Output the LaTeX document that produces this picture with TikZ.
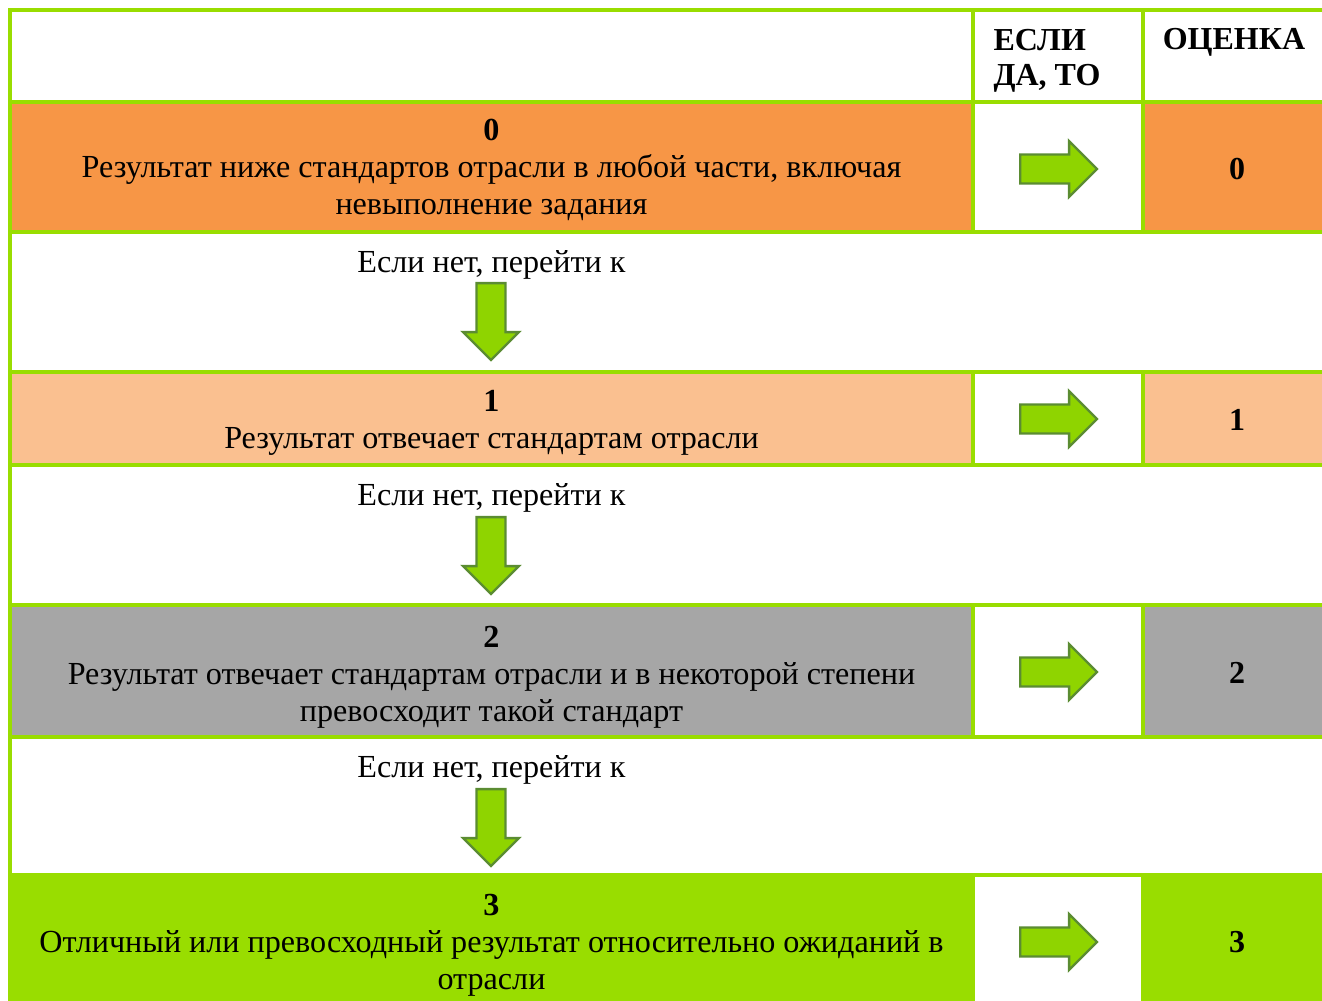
\documentclass[tikz,border=0pt]{standalone}
\usepackage{fontspec}
\setmainfont{Liberation Serif}
\usepackage{tikz}
\usetikzlibrary{shapes.arrows}

\definecolor{tablegreen}{HTML}{99DD00}
\definecolor{rowzero}{HTML}{F79646}
\definecolor{rowone}{HTML}{FAC090}
\definecolor{rowtwo}{HTML}{A6A6A6}
\definecolor{rowthree}{HTML}{99DD00}
\definecolor{arrowfill}{HTML}{8FD400}
\definecolor{arrowline}{HTML}{5B8C32}

\tikzset{
	tableline/.style={draw=tablegreen, line width=1.5pt, line cap=rect},
	bodytext/.style={inner sep=0pt, align=center, font=\fontsize{12.05}{13.9}\selectfont},
	headtext/.style={inner sep=0pt, font=\fontsize{12}{13.1}\selectfont\bfseries},
	blockarrow/.style={
		single arrow,
		draw=arrowline,
		fill=arrowfill,
		line width=0.9pt,
		inner xsep=0pt,
		inner ysep=5pt,
		single arrow head extend=5pt,
		single arrow tip angle=90,
		minimum height=28.8pt,
		anchor=tail
	},
	yesarrow/.style={blockarrow},
	noarrow/.style={blockarrow, rotate=-90}
}

\begin{document}
\begin{tikzpicture}[x=0.375pt, y=-0.375pt]

\useasboundingbox (0,0) rectangle (1322,1001);

% cell fills
\fill[rowzero] (10,102) rectangle (973,232);
\fill[rowzero] (1143,102) rectangle (1322,232);
\fill[rowone] (10,372) rectangle (973,465);
\fill[rowone] (1143,372) rectangle (1322,465);
\fill[rowtwo] (10,605) rectangle (973,737);
\fill[rowtwo] (1143,605) rectangle (1322,737);
\fill[rowthree] (10,875) rectangle (973,1001);
\fill[rowthree] (1143,875) rectangle (1322,1001);

% ---

\draw[tableline]
	(10,10) -- (1322,10)
	(10,102) -- (1322,102)
	(10,232) -- (1322,232)
	(10,372) -- (1322,372)
	(10,465) -- (1322,465)
	(10,605) -- (1322,605)
	(10,737) -- (1322,737)
	(10,875) -- (1322,875)
	(10,10) -- (10,1001);

\draw[tableline]
	(973,10) -- (973,232)
	(1143,10) -- (1143,232)
	(973,372) -- (973,465)
	(1143,372) -- (1143,465)
	(973,605) -- (973,737)
	(1143,605) -- (1143,737)
	(973,875) -- (973,1001)
	(1143,875) -- (1143,1001);

% ---

\node[
	headtext,
	align=left,
	anchor=north west
] (ifyes) at (993,29) {ЕСЛИ\\ДА, ТО};

\node[
	headtext,
	anchor=base
] (score) at (1234,50) {ОЦЕНКА};

% ---

\node[bodytext] (row0) at (491.5,170)
	{\textbf{0}\\Результат ниже стандартов отрасли в любой части, включая\\невыполнение задания};

\node[bodytext] (row1) at (491.5,423)
	{\textbf{1}\\Результат отвечает стандартам отрасли};

\node[bodytext] (row2) at (491.5,677)
	{\textbf{2}\\Результат отвечает стандартам отрасли и в некоторой степени\\превосходит такой стандарт};

\node[bodytext] (row3) at (491.5,945)
	{\textbf{3}\\Отличный или превосходный результат относительно ожиданий в\\отрасли};

% ---

\node[yesarrow] (yes0) at (1019,169) {};
\node[yesarrow] (yes1) at (1019,419) {};
\node[yesarrow] (yes2) at (1019,672) {};
\node[yesarrow] (yes3) at (1019,942) {};

\node[bodytext, font=\fontsize{12}{13.9}\selectfont\bfseries] (score0) at (1237,169) {0};
\node[bodytext, font=\fontsize{12}{13.9}\selectfont\bfseries] (score1) at (1237,420) {1};
\node[bodytext, font=\fontsize{12}{13.9}\selectfont\bfseries] (score2) at (1237,673) {2};
\node[bodytext, font=\fontsize{12}{13.9}\selectfont\bfseries] (score3) at (1237,942) {3};

% ---

\node[bodytext, anchor=base] (ifnot1) at (491.5,273) {Если нет, перейти к};
\node[bodytext, anchor=base] (ifnot2) at (491.5,506) {Если нет, перейти к};
\node[bodytext, anchor=base] (ifnot3) at (491.5,778) {Если нет, перейти к};

\node[noarrow] (no1) at (491,282) {};
\node[noarrow] (no2) at (491,516) {};
\node[noarrow] (no3) at (491,788) {};

\end{tikzpicture}
\end{document}
